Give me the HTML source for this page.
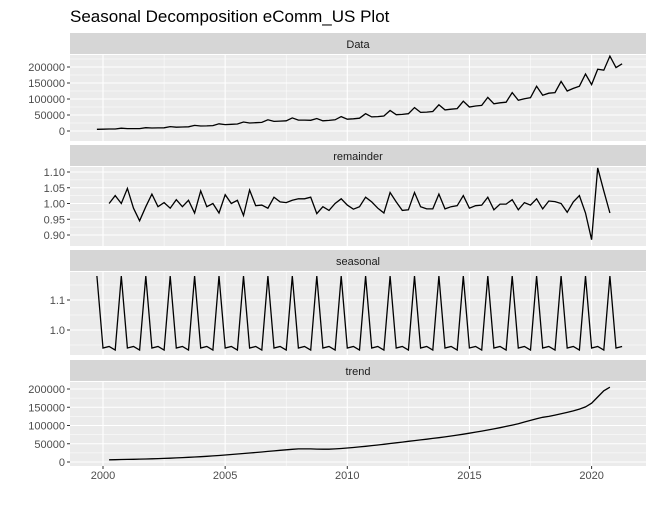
<!DOCTYPE html>
<html><head><meta charset="utf-8"><style>
body{margin:0;background:#fff;}
svg{font-family:"Liberation Sans",Arial,sans-serif;}
</style></head><body>
<svg id="c" width="656" height="505" xmlns="http://www.w3.org/2000/svg"></svg>
<script>
const dataStart = 1999.75;
const dataVals = [5.4,
5.7,6.2,6.4,8.7, 7.5,7.6,7.4,10.2, 9.5,9.8,10,13.7, 12,12.5,13,17.5, 15.5,16,17,22.5,
20,21,22,28, 25,26,27,35, 30,31,32,41, 34,34,33.5,39, 32,33,35,45,
37,38,40,54, 44,45,47,64, 51,52,54,73, 58,59,61,82, 66,68,70,93,
75,78,80,105, 85,88,90,120, 96,101,104,140, 112,118,120,155, 125,133,140,178,
145,193,190,234, 198,210].map(v=>v*1000);
const remStart = 2000.25;
const remVals = [1.0,1.025,1.0,1.048,0.985,0.945,0.99,1.03,0.99,1.003,
0.985,1.012,0.99,1.01,0.97,1.04,0.99,1.0,0.97,1.028,
1.0,1.01,0.962,1.043,0.993,0.995,0.985,1.02,1.005,1.003,
1.01,1.015,1.015,1.02,0.968,0.99,0.978,1.0,1.015,0.995,
0.982,0.99,1.02,1.005,0.985,0.97,1.035,1.005,0.978,0.98,
1.035,0.99,0.983,0.983,1.03,0.983,0.99,0.993,1.025,0.985,
0.993,0.995,1.02,0.98,0.998,0.998,1.012,0.98,1.003,0.995,
1.015,0.983,1.008,1.006,1.0,0.972,1.005,1.025,0.97,0.885,
1.113,1.04,0.97];
const seasStart = 1999.75;
const seasVals = [1.18,
0.94,0.945,0.933,1.18, 0.94,0.945,0.933,1.18, 0.94,0.945,0.933,1.18, 0.94,0.945,0.933,1.18, 0.94,0.945,0.933,1.18,
0.94,0.945,0.933,1.18, 0.94,0.945,0.933,1.18, 0.94,0.945,0.933,1.18, 0.94,0.945,0.933,1.18, 0.94,0.945,0.933,1.18,
0.94,0.945,0.933,1.18, 0.94,0.945,0.933,1.18, 0.94,0.945,0.933,1.18, 0.94,0.945,0.933,1.18, 0.94,0.945,0.933,1.18,
0.94,0.945,0.933,1.18, 0.94,0.945,0.933,1.18, 0.94,0.945,0.933,1.18, 0.94,0.945,0.933,1.18, 0.94,0.945,0.933,1.18,
0.94,0.945,0.933,1.18, 0.94,0.945];
const trendStart = 2000.25;
const trendVals = [6,6.4,6.8,7.2, 7.5,7.9,8.3,8.8, 9.3,9.9,10.5,11.2, 12,12.8,13.6,14.5,
15.5,16.6,17.8,19.1, 20.5,21.8,23.2,24.6, 26,27.5,29,30.5, 32,33.5,34.8,35.8,
36,35.8,35.4,35, 35.2,36,37,38.3, 39.8,41.4,43,44.8, 46.7,48.6,50.6,52.6,
54.6,56.6,58.6,60.6, 62.6,64.6,66.6,68.8, 71.2,73.7,76.3,79, 81.8,84.6,87.6,90.7,
94,97.5,101,105, 109.5,114,118.5,122.5, 125,128.5,132,136, 140,145,151,161,
178,195,205].map(v=>v*1000);
const xTicks = [2000,2005,2010,2015,2020];
const dataTicks = [0,50000,100000,150000,200000];
const remTicks = [0.90,0.95,1.00,1.05,1.10];
const seasTicks = [1.0,1.1];
const trendTicks = [0,50000,100000,150000,200000];

const NS="http://www.w3.org/2000/svg";
const svg=document.getElementById('c');
function el(t,a,p){const e=document.createElementNS(NS,t);for(const k in a)e.setAttribute(k,a[k]);(p||svg).appendChild(e);return e;}
const L=70,R=646;
const xs=v=>103+(v-2000)*24.43;

const title=el('text',{x:70,y:22,'font-size':17,fill:'#000'});
title.textContent='Seasonal Decomposition eComm_US Plot';



function panel(name,sTop,pTop,pBot,ys,ticks,fmt,minors,start,vals){
  const g=el('g',{});
  
  
  const strip=el('rect',{x:L,y:sTop,width:R-L,height:pTop-sTop-1,fill:'#d6d6d6'},g);
  
  
  const st=el('text',{x:(L+R)/2,y:sTop+15,'font-size':11,fill:'#1a1a1a','text-anchor':'middle'},g);
  st.textContent=name;
  
  
  el('rect',{x:L,y:pTop,width:R-L,height:pBot-pTop,fill:'#ebebeb'},g);
  minors.forEach(m=>{const y=ys(m);if(y>pTop&&y<pBot)el('line',{x1:L,x2:R,y1:y,y2:y,stroke:'#fff','stroke-width':0.5},g);});
  [1997.5,2002.5,2007.5,2012.5,2017.5,2022.5].forEach(v=>{const x=xs(v);if(x>L&&x<R)el('line',{x1:x,x2:x,y1:pTop,y2:pBot,stroke:'#fff','stroke-width':0.5},g);});
  xTicks.forEach(v=>{const x=xs(v);el('line',{x1:x,x2:x,y1:pTop,y2:pBot,stroke:'#fff','stroke-width':1.1},g);});
  ticks.forEach(v=>{const y=ys(v);
    el('line',{x1:L,x2:R,y1:y,y2:y,stroke:'#fff','stroke-width':1.1},g);
    el('line',{x1:L-3,x2:L,y1:y,y2:y,stroke:'#333','stroke-width':1},g);
    const t=el('text',{x:L-5,y:y+4,'font-size':11,fill:'#4d4d4d','text-anchor':'end'},g);
    t.textContent=fmt(v);
    
    
  });
  const pts=vals.map((v,i)=>xs(start+i*0.25).toFixed(1)+','+ys(v).toFixed(1)).join(' ');
  const line=el('polyline',{points:pts,fill:'none',stroke:'#000','stroke-width':1.3},g);
  
  
}
const big=v=>String(v);
panel('Data',33,55,141,v=>131-v*0.00032,dataTicks,big,[25000,75000,125000,175000,225000],dataStart,dataVals);
panel('remainder',145,167,246,v=>235-(v-0.9)*315,remTicks,v=>v.toFixed(2),[0.925,0.975,1.025,1.075],remStart,remVals);
panel('seasonal',250,272,355,v=>330-(v-1)*300,seasTicks,v=>v.toFixed(1),[0.95,1.05,1.15],seasStart,seasVals);
panel('trend',360,382,466,v=>462-v*0.000365,trendTicks,big,[25000,75000,125000,175000],trendStart,trendVals);

xTicks.forEach(v=>{const x=xs(v);
  el('line',{x1:x,x2:x,y1:466,y2:469,stroke:'#333','stroke-width':1});
  const t=el('text',{x:x,y:479,'font-size':11,fill:'#4d4d4d','text-anchor':'middle'});
  t.textContent=v;
  
  
});
</script>
</body></html>
